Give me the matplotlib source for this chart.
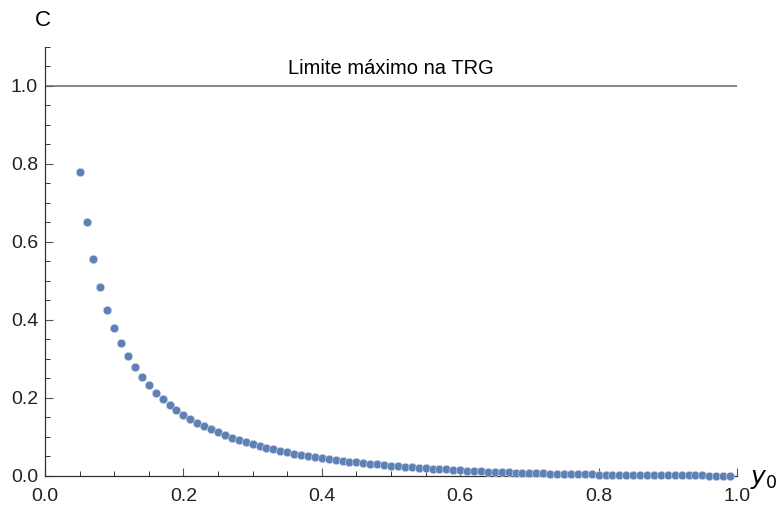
import numpy as np
import matplotlib
matplotlib.use('Agg')
import matplotlib.pyplot as plt
from matplotlib.ticker import MultipleLocator

# Sampled y0 values (step 0.01) and the computed C for each one
y0_start, y0_stop, y0_step = 0.05, 0.995, 0.01
c_values = [
    0.778, 0.650, 0.556, 0.484, 0.426, 0.379, 0.339, 0.306, 0.278, 0.253,
    0.232, 0.213, 0.197, 0.182, 0.168, 0.156, 0.145, 0.136, 0.127, 0.119,
    0.111, 0.104, 0.097, 0.0915, 0.086, 0.081, 0.076, 0.072, 0.068, 0.064,
    0.060, 0.056, 0.052, 0.0496, 0.047, 0.0445, 0.042, 0.039, 0.0377, 0.036,
    0.034, 0.0325, 0.031, 0.029, 0.0274, 0.0257, 0.025, 0.023, 0.0215, 0.0205,
    0.019, 0.018, 0.017, 0.016, 0.015, 0.014, 0.013, 0.012, 0.011, 0.0105,
    0.0098, 0.0091, 0.0085, 0.0079, 0.0073, 0.0068, 0.0063, 0.0058, 0.0054, 0.005,
    0.0046, 0.0042, 0.0039, 0.0036, 0.0033, 0.003, 0.0027, 0.0025, 0.0023, 0.0021,
    0.0019, 0.0017, 0.0015, 0.0014, 0.0012, 0.0011, 0.001, 0.0009, 0.0008, 0.0007,
    0.0006, 0.0005, 0.0004, 0.0003, 0.0002,
]
y0_values = np.round(np.arange(y0_start, y0_stop, y0_step), 2)[:len(c_values)]

limit_value = 1.0
limit_label = "Limite máximo na TRG"
x_ticks = [0.0, 0.2, 0.4, 0.6, 0.8, 1.0]
y_ticks = [0.0, 0.2, 0.4, 0.6, 0.8, 1.0]

plt.rcParams['font.family'] = ['Liberation Sans', 'DejaVu Sans']

fig = plt.figure(figsize=(7.8, 5.07), dpi=100)
ax = fig.add_axes([45 / 780, 31.3 / 507, 692 / 780, 429 / 507])

ax.scatter(y0_values, c_values, s=36, color='#5E81B5', edgecolors='#c9d5ea',
           linewidths=0.4, zorder=3, clip_on=False)
ax.axhline(limit_value, color='#666666', lw=1.1, zorder=2)
ax.text(0.5, 1.045, limit_label, ha='center', va='center', fontsize=14.5)

ax.set_xlim(0, 1.0)
ax.set_ylim(0, 1.1)
ax.set_xticks(x_ticks)
ax.set_yticks(y_ticks)
ax.xaxis.set_minor_locator(MultipleLocator(0.05))
ax.yaxis.set_minor_locator(MultipleLocator(0.05))
ax.set_xticklabels([f"{t:.1f}" for t in x_ticks])
ax.set_yticklabels([f"{t:.1f}" for t in y_ticks])

ax.spines['top'].set_visible(False)
ax.spines['right'].set_visible(False)
for side in ['left', 'bottom']:
    ax.spines[side].set_color('#333333')
    ax.spines[side].set_linewidth(0.9)

ax.tick_params(axis='both', which='major', direction='in', length=6, width=0.8,
               color='#555555', labelsize=14, labelcolor='#222222')
ax.tick_params(axis='both', which='minor', direction='in', length=3.5, width=0.7,
               color='#333333')
ax.tick_params(axis='x', which='major', pad=9)
ax.tick_params(axis='y', which='major', pad=5)

# Axis names placed at the ends of the axes
fig.text(43 / 780, 1 - 21 / 507, "C", ha='center', va='center', fontsize=16)
fig.text(764 / 780, 1 - 479 / 507, "$y_0$", ha='center', va='center', fontsize=18,
         family='DejaVu Sans')

fig.savefig('out.png', dpi=100)
